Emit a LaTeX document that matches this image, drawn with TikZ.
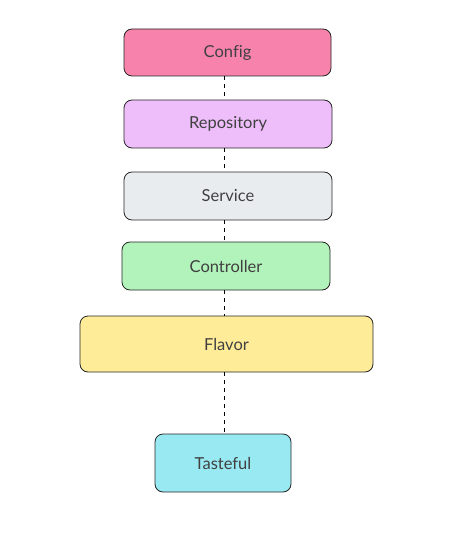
\documentclass[tikz,border=0pt]{standalone}
\usepackage{fontspec}
\setmainfont[Ligatures=NoCommon]{Lato}
\begin{document}
\begin{tikzpicture}[x=1pt,y=-1pt,
  layer/.style={draw=black!85, line width=0.8pt, rounded corners=8pt, inner sep=0pt, text=black!75, font=\fontsize{16.5}{18}\selectfont},
  link/.style={draw=black, line width=0.9pt, dash pattern=on 4pt off 4pt}]
\useasboundingbox (0,0) rectangle (462,540);
\node[layer, fill={rgb,255:red,247;green,131;blue,172}, minimum width=207pt, minimum height=47pt] (config) at (227.5,52.5) {Config};
\node[layer, fill={rgb,255:red,238;green,190;blue,250}, minimum width=208pt, minimum height=48pt] (repo) at (228,124) {Repository};
\node[layer, fill={rgb,255:red,233;green,236;blue,239}, minimum width=208pt, minimum height=48pt] (service) at (228,196) {Service};
\node[layer, fill={rgb,255:red,178;green,242;blue,187}, minimum width=208pt, minimum height=48pt] (controller) at (226,266) {Controller};
\node[layer, fill={rgb,255:red,255;green,236;blue,153}, minimum width=293pt, minimum height=56pt] (flavor) at (226.5,344) {Flavor};
\node[layer, fill={rgb,255:red,153;green,233;blue,242}, minimum width=136pt, minimum height=58pt] (tasteful) at (223,463) {Tasteful};
\coordinate (x) at (224,0);
\draw[link] (config.south -| x) -- (repo.north -| x);
\draw[link] (repo.south -| x) -- (service.north -| x);
\draw[link] (service.south -| x) -- (controller.north -| x);
\draw[link] (controller.south -| x) -- (flavor.north -| x);
\draw[link] (flavor.south -| x) -- (tasteful.north -| x);
\end{tikzpicture}
\end{document}
